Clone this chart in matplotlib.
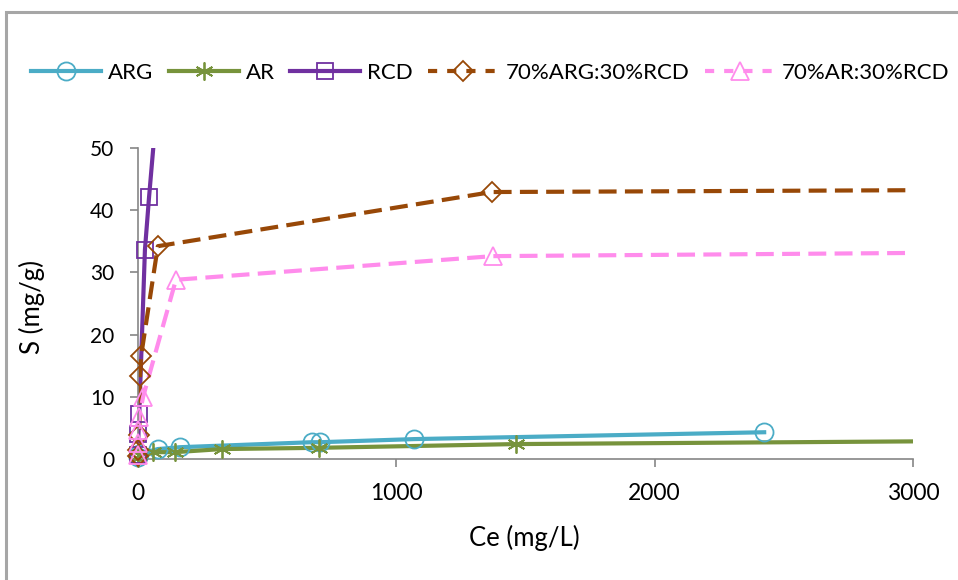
import matplotlib.pyplot as plt
from matplotlib.lines import Line2D
from matplotlib.patches import Rectangle

# valores
arg_ce = [0.5, 3, 77, 163, 674, 705, 1069, 2424]
arg_s = [0.3, 0.8, 1.6, 1.9, 2.7, 2.7, 3.2, 4.3]

ar_ce = [0.5, 3, 58, 143, 325, 700, 1463, 3600]
ar_s = [0.2, 0.6, 1.1, 1.1, 1.6, 1.8, 2.4, 3.0]

rcd_ce = [0.5, 2, 5, 27, 43, 80]
rcd_s = [0.6, 4.0, 7.2, 33.6, 42.1, 60.0]

mix_arg_ce = [0.5, 2, 5, 8, 12, 77, 1370, 3600]
mix_arg_s = [0.5, 1.5, 3.8, 13.3, 16.5, 34.2, 42.9, 43.3]

mix_ar_ce = [0.5, 1, 2, 4, 20, 147, 1374, 3600]
mix_ar_s = [0.6, 2.6, 4.6, 6.7, 10.0, 28.8, 32.6, 33.3]

series = [
    ("ARG", arg_ce, arg_s, "#4bacc6", "o", "-"),
    ("AR", ar_ce, ar_s, "#77933c", (6, 2, 0), "-"),
    ("RCD", rcd_ce, rcd_s, "#7030a0", "s", "-"),
    ("70%ARG:30%RCD", mix_arg_ce, mix_arg_s, "#984807", "D", "--"),
    ("70%AR:30%RCD", mix_ar_ce, mix_ar_s, "#ff8cec", "^", "--"),
]
msizes = {"o": 13, "s": 11, "D": 10, "^": 13}

XMAX = 3000
YMAX = 50
LW = 3.0
txt_font = ["Lato", "DejaVu Sans"]

fig = plt.figure(figsize=(9.58, 5.8), dpi=100)
ax = fig.add_axes([0.144, 0.2086, 0.809, 0.5365])

# moldura cinza do gráfico (cortada à direita e embaixo)
fig.patches.append(Rectangle((5.5 / 958, -0.1), 1.2, 1.1 - 11.5 / 580,
                             transform=fig.transFigure, fill=False,
                             edgecolor="#a6a6a6", linewidth=2.2))

handles = []
for name, ce, s, color, mk, ls in series:
    ax.plot(ce, s, color=color, linestyle=ls, linewidth=LW,
            dashes=(4.3, 2.0) if ls == "--" else (None, None), zorder=2)
    # marcadores dentro da área visível, sem recorte (como no Excel)
    pts = [(c, v) for c, v in zip(ce, s) if c <= XMAX and v <= YMAX]
    msize = msizes.get(mk, 13)
    ax.plot([p[0] for p in pts], [p[1] for p in pts], linestyle="none",
            marker=mk, markersize=msize, markerfacecolor="none",
            markeredgecolor=color, markeredgewidth=1.3, clip_on=False, zorder=3)
    h = Line2D([], [], color=color, linestyle=ls, linewidth=LW,
               marker=mk, markersize=msize, markerfacecolor="none",
               markeredgecolor=color, markeredgewidth=1.3)
    if ls == "--":
        h.set_dashes((2.2, 2.4))
    handles.append(h)

ax.set_xlim(0, XMAX)
ax.set_ylim(0, YMAX)
ax.set_xticks([0, 1000, 2000, 3000])
ax.set_yticks([0, 10, 20, 30, 40, 50])

for side in ("top", "right"):
    ax.spines[side].set_visible(False)
for side in ("left", "bottom"):
    ax.spines[side].set_color("#868686")
    ax.spines[side].set_linewidth(1.2)
ax.tick_params(axis="both", direction="out", length=6, width=1.2,
               color="#868686", pad=11)
ax.tick_params(axis="y", labelsize=15)
ax.tick_params(axis="x", labelsize=16.5)
for lab in ax.get_xticklabels() + ax.get_yticklabels():
    lab.set_family(txt_font)

ax.set_xlabel("Ce (mg/L)", fontsize=18.5, family=txt_font)
ax.set_ylabel("S (mg/g)", fontsize=18.5, family=txt_font)
ax.xaxis.set_label_coords(0.498, -0.254)
ax.yaxis.set_label_coords(-0.137, 0.49)
ax.xaxis.label.set_va("center")
ax.yaxis.label.set_va("center")

fig.legend(handles, [s[0] for s in series], loc="center left",
           bbox_to_anchor=(31 / 958, 1 - 73 / 580), ncol=5, frameon=False,
           prop={"family": txt_font, "size": 16},
           handlelength=3.15, handletextpad=0.33, columnspacing=0.68,
           borderpad=0, borderaxespad=0)

fig.savefig("out.png", dpi=100)
